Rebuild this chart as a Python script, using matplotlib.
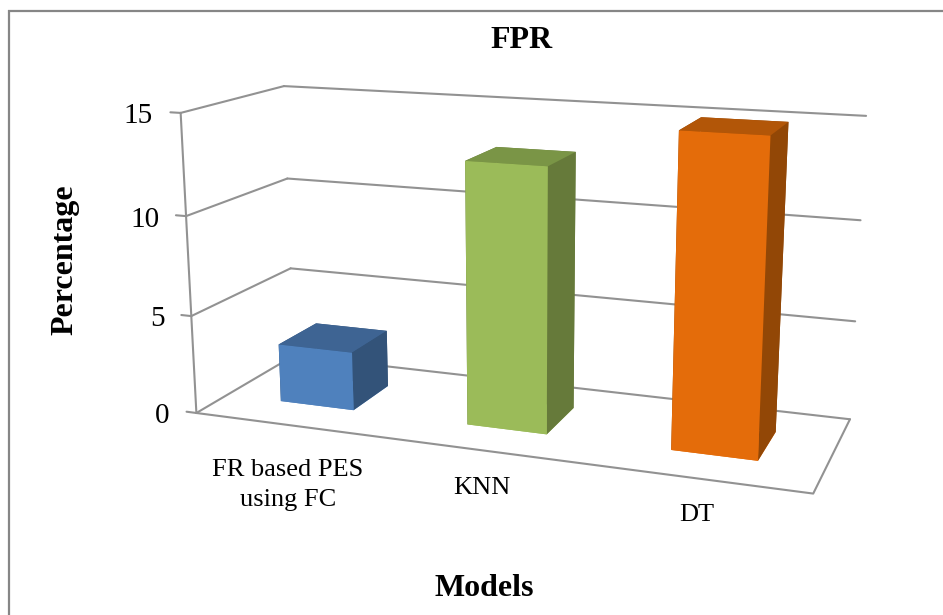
import numpy as np
import matplotlib
matplotlib.use('Agg')
import matplotlib.pyplot as plt
from matplotlib.lines import Line2D

plt.rcParams['font.family'] = ['Liberation Serif', 'DejaVu Serif']

categories = ['FR based PES\nusing FC', 'KNN', 'DT']
values = [3, 13, 15]
y_ticks = [0, 5, 10, 15]

front_colors = ['#4f81bd', '#9bbb59', '#e46c0a']
top_colors = ['#3e6493', '#7a9546', '#b25608']
side_colors = ['#335379', '#667a3a', '#924706']
line_color = '#929292'

W, H = 943, 615
S = 1000  # side of the square 3d axes, pixels
cx, cy = 507.79, 282.34

fig = plt.figure(figsize=(W/100, H/100), dpi=100, facecolor='w')
ax = fig.add_axes([(cx-S/2)/W, (H-cy-S/2)/H, S/W, S/H], projection='3d', computed_zorder=False)
ax.set_xlim(0, len(categories))
ax.set_ylim(0, 1)
ax.set_zlim(0, max(y_ticks))
ax.view_init(elev=14.10, azim=-69.91)
ax.set_proj_type('persp', focal_length=0.2948)
ax.set_box_aspect((2.0423, 0.681, 1), zoom=0.7165)
ax.set_axis_off()
ax.patch.set_alpha(0)

n = len(categories)
top = max(y_ticks)
lw = 1.5

def line3d(xs, ys, zs):
    ax.plot(xs, ys, zs, color=line_color, lw=lw, zorder=1, solid_capstyle='round')

# walls and floor
for t in y_ticks:
    line3d([0, n], [1, 1], [t, t])
    line3d([0, 0], [0, 1], [t, t])
    line3d([-0.055, 0], [0, 0], [t, t])
line3d([0, 0], [0, 0], [0, top])
line3d([0, n, n], [0, 0, 1], [0, 0, 0])

# bars, face order of bar3d: bottom, top, front, back, left, right
bar_w = 0.4
for i, v in enumerate(values):
    faces = [front_colors[i], top_colors[i], front_colors[i], side_colors[i], side_colors[i], side_colors[i]]
    ax.bar3d(i + 0.5 - bar_w/2, 0.3, 0, bar_w, 0.4, v, color=faces, shade=False,
             edgecolor='none', linewidth=0, zorder=2 + i)

def px_text(x, y, s, **kw):
    fig.text(x/W, 1 - y/H, s, ha='center', va='center', color='k', **kw)

px_text(522, 40, 'FPR', fontsize=23, fontweight='bold')
px_text(65, 260, 'Percentage', fontsize=23, fontweight='bold', rotation=90)
px_text(484, 589, 'Models', fontsize=23, fontweight='bold')

for t, (x, y) in zip(y_ticks, [(162, 416), (158, 319), (145, 220), (138, 116)]):
    px_text(x, y, str(t), fontsize=21)

px_text(288, 485, categories[0], fontsize=19, linespacing=1.45)
px_text(482, 488, categories[1], fontsize=19)
px_text(697, 515, categories[2], fontsize=19)

# chart frame, only the top and left edges fall inside the picture
frame = dict(color='#868686', lw=1.6, transform=fig.transFigure, solid_capstyle='butt')
fig.add_artist(Line2D([9/W, 9/W], [0, 1 - 10/H], **frame))
fig.add_artist(Line2D([8/W, 1], [1 - 11/H, 1 - 11/H], **frame))

fig.savefig('out.png', dpi=100, facecolor='w')
